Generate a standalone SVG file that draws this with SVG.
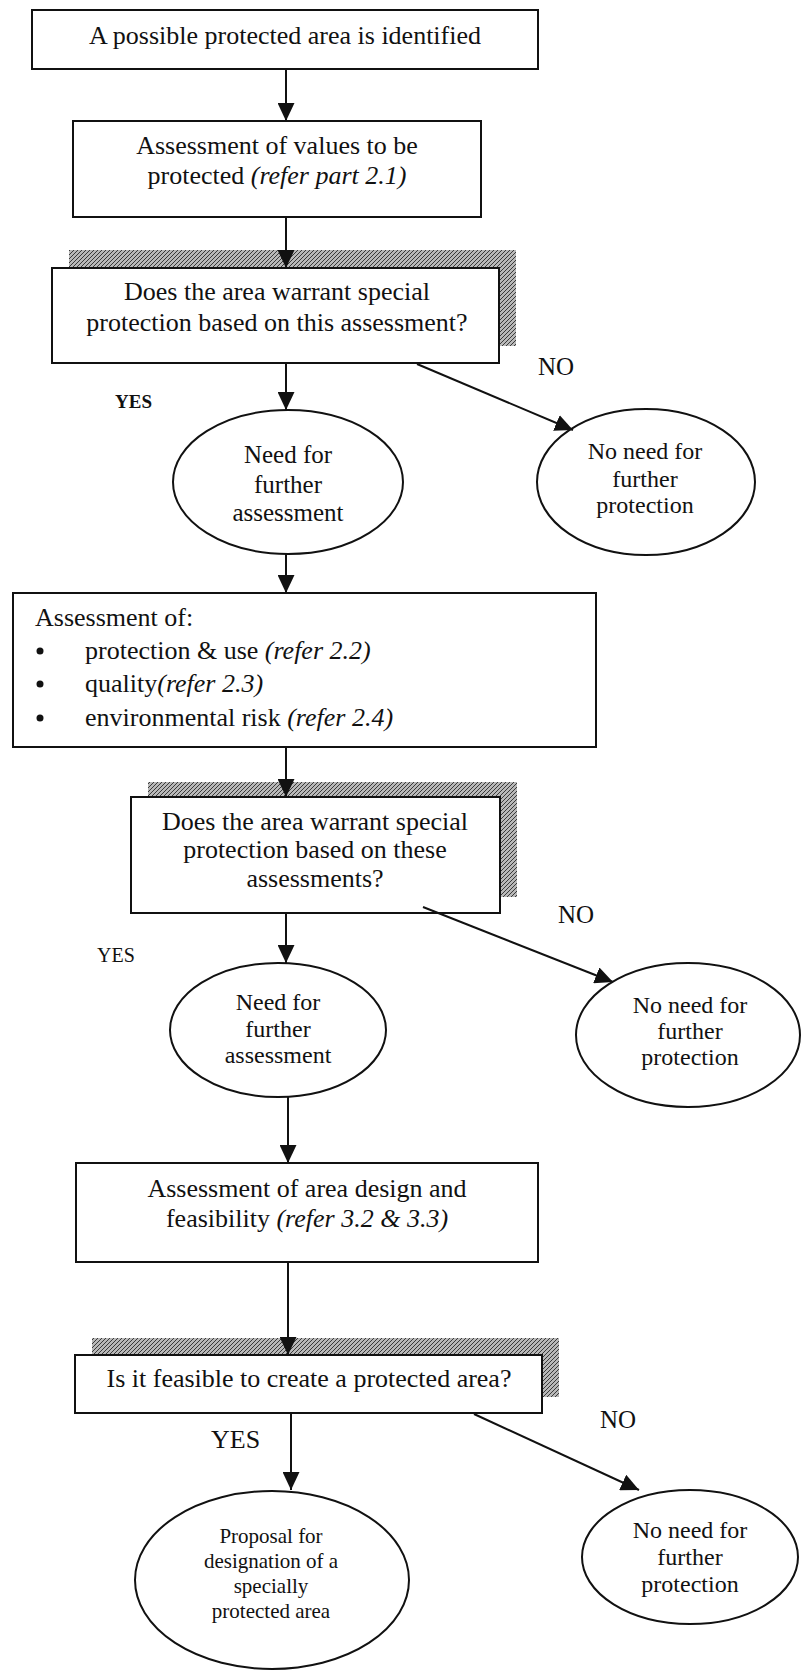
<svg xmlns="http://www.w3.org/2000/svg" width="803" height="1670" viewBox="0 0 803 1670">
<defs>
<style>
.box{fill:#fff;stroke:#111;stroke-width:2}
.sh{fill:url(#hatch);stroke:none}
.el{fill:#fff;stroke:#111;stroke-width:2}
.t{font-family:"Liberation Serif","Times New Roman",serif;font-size:26px;fill:#111}
.c{text-anchor:middle}
.i{font-style:italic}
.ct{font-family:"Liberation Serif","Times New Roman",serif;font-size:25px;fill:#111;text-anchor:middle}
.lbl{font-family:"Liberation Serif","Times New Roman",serif;font-size:25px;fill:#111}
.con{stroke:#111;stroke-width:2;fill:none;marker-end:url(#ah)}
</style>
<pattern id="hatch" width="4" height="4" patternUnits="userSpaceOnUse">
<rect width="4" height="4" fill="#b8b8b8"/>
<path d="M0,4 L4,0 M-1,1 L1,-1 M3,5 L5,3" stroke="#3a3a3a" stroke-width="1"/>
</pattern>
<marker id="ah" viewBox="0 0 18 17" refX="18" refY="8.5" markerWidth="18" markerHeight="17" markerUnits="userSpaceOnUse" orient="auto">
<path d="M0,0 L18,8.5 L0,17 z" fill="#111"/>
</marker>
</defs>
<rect width="803" height="1670" fill="#fff"/>

<g id="n1">
<rect class="box" x="32" y="10" width="506" height="59"/>
<text class="t c" x="285" y="44">A possible protected area is identified</text>
</g>

<g id="n2">
<rect class="box" x="73" y="121" width="408" height="96"/>
<text class="t c" x="277" y="154">Assessment of values to be</text>
<text class="t c" x="277" y="184">protected <tspan class="i">(refer part 2.1)</tspan></text>
</g>

<g id="n3">
<rect class="sh" x="69" y="250" width="447" height="96"/>
<rect class="box" x="52" y="268" width="447" height="95"/>
<text class="t c" x="277" y="300">Does the area warrant special</text>
<text class="t c" x="277" y="331">protection based on this assessment?</text>
</g>

<g id="lbl-yes1"><text class="lbl" x="115" y="408" style="font-size:19px;font-weight:bold">YES</text></g>
<g id="lbl-no1"><text class="lbl" x="538" y="375">NO</text></g>

<g id="n4">
<ellipse class="el" cx="288" cy="482" rx="115" ry="72"/>
<text class="ct" x="288" y="463">Need for</text>
<text class="ct" x="288" y="493">further</text>
<text class="ct" x="288" y="521">assessment</text>
</g>

<g id="n5">
<ellipse class="el" cx="646" cy="482" rx="109" ry="73"/>
<text class="ct" x="645" y="459" style="font-size:24px">No need for</text>
<text class="ct" x="645" y="487" style="font-size:24px">further</text>
<text class="ct" x="645" y="513" style="font-size:24px">protection</text>
</g>

<g id="n6">
<rect class="box" x="13" y="593" width="583" height="154"/>
<text class="t" x="35" y="626">Assessment of:</text>
<circle cx="40" cy="651" r="3.5" fill="#111"/>
<circle cx="40" cy="684" r="3.5" fill="#111"/>
<circle cx="40" cy="718" r="3.5" fill="#111"/>
<text class="t" x="85" y="659">protection &amp; use <tspan class="i">(refer 2.2)</tspan></text>
<text class="t" x="85" y="692">quality<tspan class="i">(refer 2.3)</tspan></text>
<text class="t" x="85" y="726">environmental risk <tspan class="i">(refer 2.4)</tspan></text>
</g>

<g id="n7">
<rect class="sh" x="148" y="782" width="369" height="115"/>
<rect class="box" x="131" y="797" width="369" height="116"/>
<text class="t c" x="315" y="830">Does the area warrant special</text>
<text class="t c" x="315" y="858">protection based on these</text>
<text class="t c" x="315" y="887">assessments?</text>
</g>

<g id="lbl-yes2"><text class="lbl" x="97" y="962" style="font-size:20px">YES</text></g>
<g id="lbl-no2"><text class="lbl" x="558" y="923">NO</text></g>

<g id="n8">
<ellipse class="el" cx="278" cy="1030" rx="108" ry="67"/>
<text class="ct" x="278" y="1010" style="font-size:24px">Need for</text>
<text class="ct" x="278" y="1037" style="font-size:24px">further</text>
<text class="ct" x="278" y="1063" style="font-size:24px">assessment</text>
</g>

<g id="n9">
<ellipse class="el" cx="688" cy="1035" rx="112" ry="72"/>
<text class="ct" x="690" y="1013" style="font-size:24px">No need for</text>
<text class="ct" x="690" y="1039" style="font-size:24px">further</text>
<text class="ct" x="690" y="1065" style="font-size:24px">protection</text>
</g>

<g id="n10">
<rect class="box" x="76" y="1163" width="462" height="99"/>
<text class="t c" x="307" y="1197">Assessment of area design and</text>
<text class="t c" x="307" y="1227">feasibility <tspan class="i">(refer 3.2 &amp; 3.3)</tspan></text>
</g>

<g id="n11">
<rect class="sh" x="92" y="1338" width="467" height="59"/>
<rect class="box" x="75" y="1355" width="467" height="58"/>
<text class="t c" x="309" y="1387">Is it feasible to create a protected area?</text>
</g>

<g id="lbl-yes3"><text class="lbl" x="211" y="1448" style="font-size:26px">YES</text></g>
<g id="lbl-no3"><text class="lbl" x="600" y="1428">NO</text></g>

<g id="n12">
<ellipse class="el" cx="272" cy="1580" rx="137" ry="89"/>
<text class="ct" x="271" y="1543" style="font-size:21px">Proposal for</text>
<text class="ct" x="271" y="1568" style="font-size:21px">designation of a</text>
<text class="ct" x="271" y="1593" style="font-size:21px">specially</text>
<text class="ct" x="271" y="1618" style="font-size:21px">protected area</text>
</g>

<g id="n13">
<ellipse class="el" cx="690" cy="1557" rx="108" ry="67"/>
<text class="ct" x="690" y="1538" style="font-size:24px">No need for</text>
<text class="ct" x="690" y="1565" style="font-size:24px">further</text>
<text class="ct" x="690" y="1592" style="font-size:24px">protection</text>
</g>

<g id="connectors">
<line class="con" x1="286" y1="69" x2="286" y2="121"/>
<line class="con" x1="286" y1="217" x2="286" y2="268"/>
<line class="con" x1="286" y1="363" x2="286" y2="410"/>
<line class="con" x1="417" y1="364" x2="573" y2="430"/>
<line class="con" x1="286" y1="554" x2="286" y2="593"/>
<line class="con" x1="286" y1="747" x2="286" y2="797"/>
<line class="con" x1="286" y1="913" x2="286" y2="963"/>
<line class="con" x1="423" y1="907" x2="613" y2="982"/>
<line class="con" x1="288" y1="1097" x2="288" y2="1163"/>
<line class="con" x1="288" y1="1262" x2="288" y2="1355"/>
<line class="con" x1="291" y1="1413" x2="291" y2="1490"/>
<line class="con" x1="474" y1="1414" x2="639" y2="1490"/>
</g>
</svg>
